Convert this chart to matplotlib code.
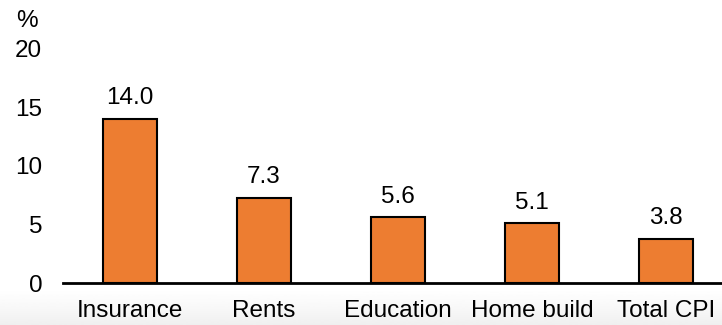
import numpy as np
import matplotlib.pyplot as plt

categories = ["Insurance", "Rents", "Education", "Home build", "Total CPI"]
values = [14.0, 7.3, 5.6, 5.1, 3.8]
yticks = [0, 5, 10, 15, 20]

plt.rcParams["font.family"] = ["Liberation Sans", "DejaVu Sans"]
fs = 17.5

fig = plt.figure(figsize=(7.22, 3.25), dpi=100)

# faint grey fade along the bottom edge, darkest at the bottom
bg = fig.add_axes([0, 0, 1, 0.12], zorder=-5)
fade = 1.0 - 0.06 * np.linspace(1, 0, 60).reshape(-1, 1) ** 1.3
bg.imshow(fade, cmap="gray", vmin=0, vmax=1, aspect="auto", origin="lower",
          extent=[0, 1, 0, 1])
bg.axis("off")

ax = fig.add_axes([63 / 722, 1 - 283 / 325, 670 / 722, 234 / 325])
ax.patch.set_alpha(0)
x = np.arange(len(categories))
bars = ax.bar(x, values, width=0.4, color="#ED7D31", edgecolor="black", linewidth=1.5, zorder=3)

for b, v in zip(bars, values):
    ax.annotate(f"{v:.1f}", (b.get_x() + b.get_width() / 2, v), xytext=(0, 7),
                textcoords="offset points", ha="center", va="bottom", fontsize=fs)

ax.set_xlim(-0.5, len(categories) - 0.5)
ax.set_ylim(0, 20)
ax.set_yticks(yticks)
ax.set_xticks(x)
ax.set_xticklabels(categories)
ax.tick_params(axis="both", length=0, labelsize=fs)
ax.tick_params(axis="y", pad=15)
ax.tick_params(axis="x", pad=12)

for side in ["top", "right", "left"]:
    ax.spines[side].set_visible(False)
ax.spines["bottom"].set_linewidth(2)

fig.text(27 / 722, 1 - 21 / 325, "%", ha="center", va="center", fontsize=fs)

fig.savefig("out.png", dpi=100)
